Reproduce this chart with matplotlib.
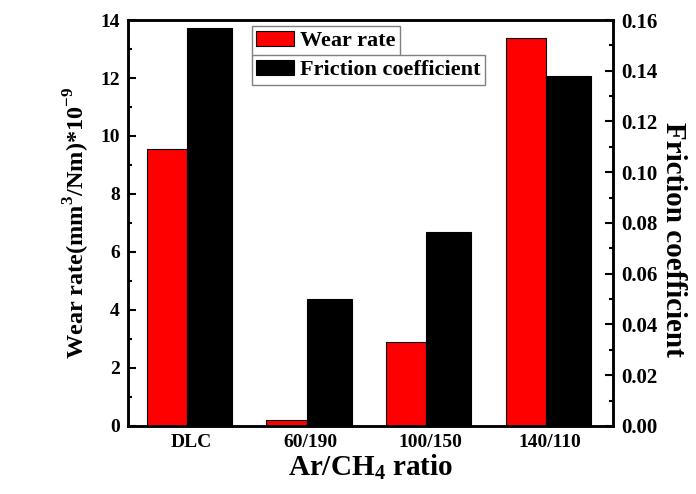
import numpy as np
import matplotlib.pyplot as plt
from matplotlib.ticker import MultipleLocator, FormatStrFormatter

# data
ratios = ['DLC', '60/190', '100/150', '140/110']
wear_rate = [9.55, 0.2, 2.89, 13.38]          # (mm^3/Nm)*1e-9
friction = [0.157, 0.050, 0.0765, 0.138]

plt.rcParams['font.family'] = ['Liberation Serif', 'DejaVu Serif']
plt.rcParams['font.weight'] = 'bold'
plt.rcParams['mathtext.fontset'] = 'custom'
plt.rcParams['mathtext.rm'] = 'Liberation Serif:bold'
plt.rcParams['mathtext.bf'] = 'Liberation Serif:bold'

fig = plt.figure(figsize=(6.96, 4.94), dpi=100)
ax1 = fig.add_axes([0.184, 0.1377, 0.697, 0.8218])
ax2 = ax1.twinx()

x = np.arange(len(ratios))
b1 = ax1.bar(x - 0.37, wear_rate, width=0.335, align='edge',
             color='#ff0000', edgecolor='black', linewidth=0.8, label='Wear rate')
b2 = ax2.bar(x - 0.035, friction, width=0.375, align='edge',
             color='black', edgecolor='black', linewidth=0.8, label='Friction coefficient')

ax1.set_xlim(-0.526, 3.525)
ax1.set_ylim(0, 14)
ax2.set_ylim(0, 0.16)
ax1.set_xticks(x)
ax1.set_xticklabels(ratios)

ax1.yaxis.set_major_locator(MultipleLocator(2))
ax1.yaxis.set_minor_locator(MultipleLocator(1))
ax2.yaxis.set_major_locator(MultipleLocator(0.02))
ax2.yaxis.set_minor_locator(MultipleLocator(0.01))
ax2.yaxis.set_major_formatter(FormatStrFormatter('%.2f'))

ax1.tick_params(axis='y', which='major', direction='in', length=6, width=1.5,
                labelsize=14, pad=6)
ax1.tick_params(axis='y', which='minor', direction='in', length=3, width=1.5)
ax1.tick_params(axis='x', length=0, labelsize=14, pad=6)
ax2.tick_params(axis='y', which='major', direction='in', length=6, width=1.5,
                labelsize=15, pad=6)
ax2.tick_params(axis='y', which='minor', direction='in', length=3, width=1.5)

for ax in (ax1, ax2):
    for s in ax.spines.values():
        s.set_linewidth(1.8)

ax1.set_xlabel('Ar/CH$_4$ ratio', fontsize=21, fontweight='bold', labelpad=1)
ax1.set_ylabel('Wear rate(mm$^3$/Nm)*10$^{-9}$', fontsize=17.5, fontweight='bold', labelpad=6)
ax2.set_ylabel('Friction coefficient', fontsize=21, fontweight='bold',
               rotation=270, labelpad=21)
ax2.yaxis.label.set_y(0.46)

# legend: two stacked boxes, like the reference
leg_kw = dict(loc='upper left', fancybox=False, edgecolor='#808080', framealpha=1,
              prop={'size': 16, 'weight': 'bold'}, borderaxespad=0,
              handlelength=1.7, handleheight=0.68, handletextpad=0.25,
              borderpad=0.2)
fig.legend(handles=[b1], bbox_to_anchor=(252 / 696, 1 - 26.5 / 494), **leg_kw)
fig.legend(handles=[b2], bbox_to_anchor=(252 / 696, 1 - 55.5 / 494), **leg_kw)

fig.savefig('out.png', dpi=100)
